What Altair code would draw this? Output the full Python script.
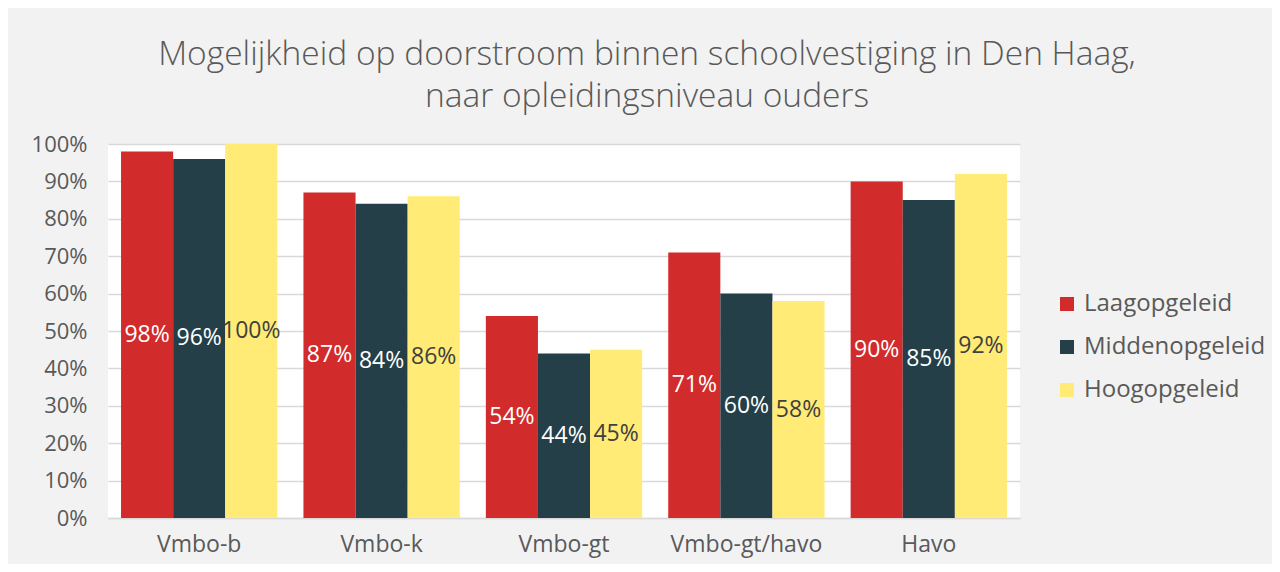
import altair as alt
import pandas as pd

categories = ["Vmbo-b", "Vmbo-k", "Vmbo-gt", "Vmbo-gt/havo", "Havo"]
series = ["Laagopgeleid", "Middenopgeleid", "Hoogopgeleid"]
laag = [0.98, 0.87, 0.54, 0.71, 0.90]
midden = [0.96, 0.84, 0.44, 0.60, 0.85]
hoog = [1.00, 0.86, 0.45, 0.58, 0.92]
colors = ["#D22B2B", "#243F48", "#FFEB76"]
y_ticks = [0, 0.1, 0.2, 0.3, 0.4, 0.5, 0.6, 0.7, 0.8, 0.9, 1.0]

rows = []
for s, vals in zip(series, [laag, midden, hoog]):
    for c, v in zip(categories, vals):
        rows.append({"categorie": c, "niveau": s, "waarde": v})
df = pd.DataFrame(rows)

FONT = "Open Sans"

x_axis = alt.Axis(labelAngle=0, labelFontSize=23, labelColor="#595959",
                  labelFont=FONT, ticks=False, domain=True,
                  domainColor="#d9d9d9", domainWidth=1.5, labelPadding=15)
x_scale = alt.Scale(paddingInner=0.143, paddingOuter=0.0715)
y_axis = alt.Axis(values=y_ticks, format=".0%", labelFontSize=22,
                  labelColor="#595959", labelFont=FONT, ticks=False,
                  domain=False, grid=True, gridColor="#d9d9d9",
                  gridWidth=1.5, labelPadding=21, labelOverlap=False)
y_scale = alt.Scale(domain=[0, 1], nice=False)
xoff = alt.XOffset("niveau:N", sort=series, scale=alt.Scale(paddingInner=0, paddingOuter=0))

bars = alt.Chart(df).mark_bar().encode(
    x=alt.X("categorie:N", sort=categories, title=None, scale=x_scale, axis=x_axis),
    xOffset=xoff,
    y=alt.Y("waarde:Q", title=None, scale=y_scale, axis=y_axis),
    color=alt.Color("niveau:N", sort=series,
                    scale=alt.Scale(domain=series, range=colors),
                    legend=alt.Legend(title=None, orient="none", legendX=947,
                                      legendY=148, symbolType="square",
                                      symbolSize=196, symbolStrokeWidth=0,
                                      labelFontSize=24, labelColor="#595959",
                                      labelFont=FONT, rowPadding=19,
                                      labelOffset=5, padding=0, labelLimit=300)),
)

labels = alt.Chart(df).transform_calculate(
    mid="datum.waarde / 2"
).mark_text(fontSize=23, font=FONT, baseline="middle", align="center").encode(
    x=alt.X("categorie:N", sort=categories, title=None, scale=x_scale, axis=x_axis),
    xOffset=xoff,
    y=alt.Y("mid:Q", title=None, scale=y_scale, axis=y_axis),
    text=alt.Text("waarde:Q", format=".0%"),
    color=alt.condition(alt.datum.niveau == "Hoogopgeleid",
                        alt.value("#404040"), alt.value("#ffffff")),
)

chart = alt.layer(bars, labels).properties(
    width=912, height=374,
    title=alt.Title(["Mogelijkheid op doorstroom binnen schoolvestiging in Den Haag,",
                     "naar opleidingsniveau ouders"],
                    fontSize=33.5, font=FONT, fontWeight=300, color="#595959",
                    anchor="middle", dx=83, offset=19, lineHeight=42),
    background="#f2f2f2",
    padding={"left": 100, "top": 136, "right": 252, "bottom": 46},
    autosize=alt.AutoSizeParams(type="none"),
).configure_view(fill="white", stroke=None)

chart.save("out.html", embed_options={"renderer": "svg", "actions": False})
